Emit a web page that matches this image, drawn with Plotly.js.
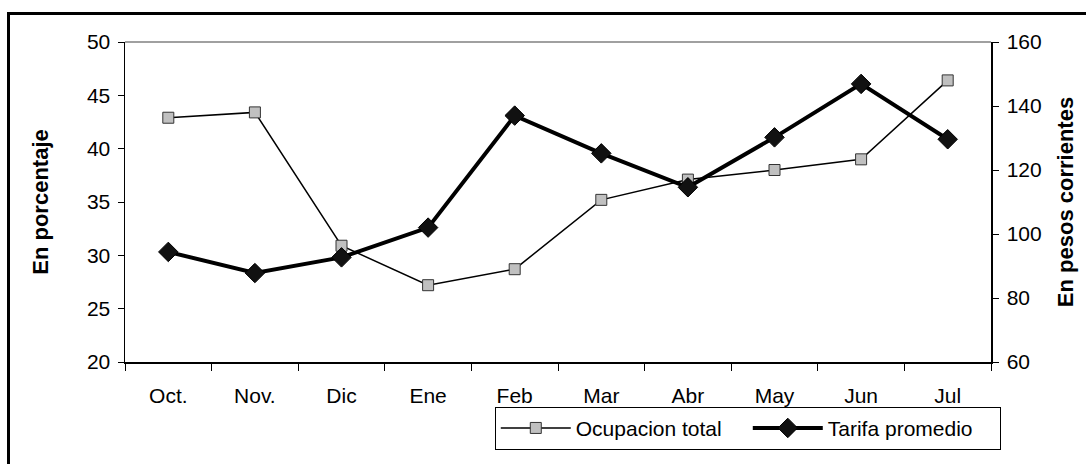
<!DOCTYPE html>
<html>
<head>
<meta charset="utf-8">
<script src="https://cdn.plot.ly/plotly-3.0.1.min.js"></script>
<style>
  html, body { margin: 0; padding: 0; background: #fff; overflow: hidden; }
  #wrap { position: relative; width: 1086px; height: 464px; }
  #chart { width: 1086px; height: 464px; }
  #frame { position: absolute; left: 7px; top: 12px; width: 1100px; height: 480px;
           border: 3px solid #000; pointer-events: none; box-sizing: border-box; }
</style>
</head>
<body>
<div id="wrap">
  <div id="chart"></div>
  <div id="frame"></div>
</div>
<script>
const months = ['Oct.', 'Nov.', 'Dic', 'Ene', 'Feb', 'Mar', 'Abr', 'May', 'Jun', 'Jul'];
const ocupacionTotal = [42.9, 43.4, 30.9, 27.2, 28.7, 35.2, 37.1, 38.0, 39.0, 46.4];
const tarifaPromedio = [94.4, 87.8, 92.7, 102.0, 137.0, 125.2, 114.6, 130.2, 146.9, 129.6];
const leftTicks = [20, 25, 30, 35, 40, 45, 50];
const rightTicks = [60, 80, 100, 120, 140, 160];

const FONT = 'Liberation Sans, Arial, sans-serif';

const traces = [
  {
    x: months, y: ocupacionTotal, name: 'Ocupacion total', type: 'scatter', mode: 'lines+markers',
    yaxis: 'y',
    line: { color: '#000', width: 1.5 },
    marker: { symbol: 'square', size: 11, color: '#c0c0c0', line: { color: '#333', width: 1 } }
  },
  {
    x: months, y: tarifaPromedio, name: 'Tarifa promedio', type: 'scatter', mode: 'lines+markers',
    yaxis: 'y2',
    line: { color: '#000', width: 4 },
    marker: { symbol: 'diamond', size: 15, color: '#111', line: { color: '#000', width: 1 } }
  }
];

const layout = {
  width: 1086, height: 464,
  margin: { l: 125, r: 95, t: 42, b: 102, autoexpand: false },
  paper_bgcolor: '#fff', plot_bgcolor: '#fff',
  font: { family: FONT, size: 21, color: '#000' },
  showlegend: true,
  legend: {
    orientation: 'h', x: 0.427, y: -0.14, xanchor: 'left', yanchor: 'top',
    bordercolor: '#000', borderwidth: 1, bgcolor: '#fff',
    font: { family: FONT, size: 21, color: '#000' },
    itemwidth: 70,
    entrywidth: 167, entrywidthmode: 'pixels', traceorder: 'normal'
  },
  xaxis: {
    type: 'category', showgrid: false, zeroline: false,
    showline: true, linecolor: '#000', linewidth: 1.5,
    ticks: 'outside', ticklen: 7, tickcolor: '#000', tickwidth: 1,
    tickson: 'boundaries', range: [-0.5, 9.5], automargin: false,
    ticklabelstandoff: 14,
    tickfont: { family: FONT, size: 21 }
  },
  yaxis: {
    range: [20, 50], tickvals: leftTicks, showgrid: false, zeroline: false,
    showline: true, linecolor: '#000', linewidth: 1.5,
    ticks: 'outside', ticklen: 6, tickcolor: '#000', tickwidth: 1,
    automargin: false, ticklabelstandoff: 3,
    tickfont: { family: FONT, size: 21 },
    title: { text: 'En porcentaje', font: { family: FONT, size: 22, weight: 'bold' }, standoff: 32 }
  },
  yaxis2: {
    range: [60, 160], tickvals: rightTicks, overlaying: 'y', side: 'right',
    showgrid: false, zeroline: false,
    showline: true, linecolor: '#000', linewidth: 1.5,
    ticks: 'outside', ticklen: 6, tickcolor: '#000', tickwidth: 1,
    automargin: false, ticklabelstandoff: 4,
    tickfont: { family: FONT, size: 21 },
    title: { text: 'En pesos corrientes', font: { family: FONT, size: 22, weight: 'bold' }, standoff: 17 }
  },
  shapes: [
    { type: 'line', xref: 'paper', yref: 'paper', x0: 0, x1: 1, y0: 1, y1: 1,
      line: { color: '#808080', width: 1.5 }, layer: 'below' }
  ]
};

Plotly.newPlot('chart', traces, layout, { displayModeBar: false, staticPlot: true });
</script>
</body>
</html>
